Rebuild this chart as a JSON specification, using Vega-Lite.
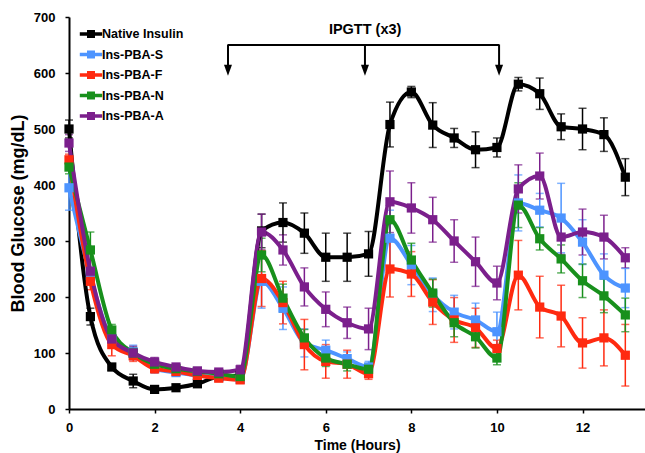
{
  "$schema": "https://vega.github.io/schema/vega-lite/v6.json",
  "width": 576,
  "height": 392,
  "autosize": "none",
  "padding": {"left": 69, "top": 17, "right": 0, "bottom": 44},
  "background": "white",
  "config": {
    "view": {"stroke": null},
    "font": "Liberation Sans",
    "axis": {
      "grid": false,
      "domainColor": "#000000",
      "domainWidth": 2,
      "tickColor": "#000000",
      "tickWidth": 1.5,
      "tickSize": 4,
      "labelFont": "Liberation Sans",
      "labelFontWeight": "bold",
      "labelFontSize": 13,
      "labelColor": "#000000",
      "labelFlush": false,
      "titleFont": "Liberation Sans",
      "titleFontWeight": "bold",
      "titleColor": "#000000"
    }
  },
  "datasets": {
    "glucose": [
      {"series": "Native Insulin", "t": 0, "v": 500, "e": 16},
      {"series": "Native Insulin", "t": 0.5, "v": 165, "e": 15},
      {"series": "Native Insulin", "t": 1, "v": 75, "e": 6},
      {"series": "Native Insulin", "t": 1.5, "v": 50, "e": 12},
      {"series": "Native Insulin", "t": 2, "v": 35, "e": 4},
      {"series": "Native Insulin", "t": 2.5, "v": 38, "e": 4},
      {"series": "Native Insulin", "t": 3, "v": 45, "e": 4},
      {"series": "Native Insulin", "t": 3.5, "v": 58, "e": 4},
      {"series": "Native Insulin", "t": 4, "v": 60, "e": 4},
      {"series": "Native Insulin", "t": 4.5, "v": 318, "e": 30},
      {"series": "Native Insulin", "t": 5, "v": 333, "e": 35},
      {"series": "Native Insulin", "t": 5.5, "v": 314, "e": 36},
      {"series": "Native Insulin", "t": 6, "v": 271, "e": 43},
      {"series": "Native Insulin", "t": 6.5, "v": 271, "e": 43},
      {"series": "Native Insulin", "t": 7, "v": 277, "e": 40},
      {"series": "Native Insulin", "t": 7.5, "v": 508, "e": 40},
      {"series": "Native Insulin", "t": 8, "v": 566, "e": 10},
      {"series": "Native Insulin", "t": 8.5, "v": 507, "e": 40},
      {"series": "Native Insulin", "t": 9, "v": 484, "e": 17},
      {"series": "Native Insulin", "t": 9.5, "v": 463, "e": 32},
      {"series": "Native Insulin", "t": 10, "v": 467, "e": 17},
      {"series": "Native Insulin", "t": 10.5, "v": 580, "e": 12},
      {"series": "Native Insulin", "t": 11, "v": 563, "e": 28},
      {"series": "Native Insulin", "t": 11.5, "v": 504, "e": 23},
      {"series": "Native Insulin", "t": 12, "v": 500, "e": 37},
      {"series": "Native Insulin", "t": 12.5, "v": 490, "e": 30},
      {"series": "Native Insulin", "t": 13, "v": 414, "e": 33},

      {"series": "Ins-PBA-S", "t": 0, "v": 395, "e": 40},
      {"series": "Ins-PBA-S", "t": 0.5, "v": 238, "e": 15},
      {"series": "Ins-PBA-S", "t": 1, "v": 125, "e": 10},
      {"series": "Ins-PBA-S", "t": 1.5, "v": 102, "e": 12},
      {"series": "Ins-PBA-S", "t": 2, "v": 72, "e": 6},
      {"series": "Ins-PBA-S", "t": 2.5, "v": 65, "e": 6},
      {"series": "Ins-PBA-S", "t": 3, "v": 60, "e": 5},
      {"series": "Ins-PBA-S", "t": 3.5, "v": 57, "e": 5},
      {"series": "Ins-PBA-S", "t": 4, "v": 53, "e": 5},
      {"series": "Ins-PBA-S", "t": 4.5, "v": 228, "e": 48},
      {"series": "Ins-PBA-S", "t": 5, "v": 180, "e": 38},
      {"series": "Ins-PBA-S", "t": 5.5, "v": 118, "e": 25},
      {"series": "Ins-PBA-S", "t": 6, "v": 105, "e": 18},
      {"series": "Ins-PBA-S", "t": 6.5, "v": 90, "e": 12},
      {"series": "Ins-PBA-S", "t": 7, "v": 75, "e": 10},
      {"series": "Ins-PBA-S", "t": 7.5, "v": 305, "e": 50},
      {"series": "Ins-PBA-S", "t": 8, "v": 257, "e": 35},
      {"series": "Ins-PBA-S", "t": 8.5, "v": 204, "e": 30},
      {"series": "Ins-PBA-S", "t": 9, "v": 173, "e": 30},
      {"series": "Ins-PBA-S", "t": 9.5, "v": 159, "e": 30},
      {"series": "Ins-PBA-S", "t": 10, "v": 138, "e": 35},
      {"series": "Ins-PBA-S", "t": 10.5, "v": 368, "e": 50},
      {"series": "Ins-PBA-S", "t": 11, "v": 355, "e": 30},
      {"series": "Ins-PBA-S", "t": 11.5, "v": 341, "e": 62},
      {"series": "Ins-PBA-S", "t": 12, "v": 298, "e": 40},
      {"series": "Ins-PBA-S", "t": 12.5, "v": 239, "e": 38},
      {"series": "Ins-PBA-S", "t": 13, "v": 216, "e": 35},

      {"series": "Ins-PBA-F", "t": 0, "v": 445, "e": 10},
      {"series": "Ins-PBA-F", "t": 0.5, "v": 228, "e": 15},
      {"series": "Ins-PBA-F", "t": 1, "v": 115, "e": 20},
      {"series": "Ins-PBA-F", "t": 1.5, "v": 95, "e": 10},
      {"series": "Ins-PBA-F", "t": 2, "v": 72, "e": 8},
      {"series": "Ins-PBA-F", "t": 2.5, "v": 67, "e": 6},
      {"series": "Ins-PBA-F", "t": 3, "v": 60, "e": 5},
      {"series": "Ins-PBA-F", "t": 3.5, "v": 55, "e": 5},
      {"series": "Ins-PBA-F", "t": 4, "v": 52, "e": 5},
      {"series": "Ins-PBA-F", "t": 4.5, "v": 233, "e": 50},
      {"series": "Ins-PBA-F", "t": 5, "v": 190, "e": 38},
      {"series": "Ins-PBA-F", "t": 5.5, "v": 115, "e": 45},
      {"series": "Ins-PBA-F", "t": 6, "v": 85, "e": 30},
      {"series": "Ins-PBA-F", "t": 6.5, "v": 80, "e": 25},
      {"series": "Ins-PBA-F", "t": 7, "v": 63, "e": 10},
      {"series": "Ins-PBA-F", "t": 7.5, "v": 250, "e": 50},
      {"series": "Ins-PBA-F", "t": 8, "v": 241, "e": 40},
      {"series": "Ins-PBA-F", "t": 8.5, "v": 191, "e": 40},
      {"series": "Ins-PBA-F", "t": 9, "v": 159, "e": 40},
      {"series": "Ins-PBA-F", "t": 9.5, "v": 145, "e": 35},
      {"series": "Ins-PBA-F", "t": 10, "v": 108, "e": 15},
      {"series": "Ins-PBA-F", "t": 10.5, "v": 239, "e": 62},
      {"series": "Ins-PBA-F", "t": 11, "v": 182, "e": 55},
      {"series": "Ins-PBA-F", "t": 11.5, "v": 166, "e": 55},
      {"series": "Ins-PBA-F", "t": 12, "v": 118, "e": 45},
      {"series": "Ins-PBA-F", "t": 12.5, "v": 127, "e": 50},
      {"series": "Ins-PBA-F", "t": 13, "v": 96, "e": 55},

      {"series": "Ins-PBA-N", "t": 0, "v": 432, "e": 12},
      {"series": "Ins-PBA-N", "t": 0.5, "v": 284, "e": 32},
      {"series": "Ins-PBA-N", "t": 1, "v": 141, "e": 10},
      {"series": "Ins-PBA-N", "t": 1.5, "v": 100, "e": 10},
      {"series": "Ins-PBA-N", "t": 2, "v": 80, "e": 6},
      {"series": "Ins-PBA-N", "t": 2.5, "v": 72, "e": 6},
      {"series": "Ins-PBA-N", "t": 3, "v": 67, "e": 5},
      {"series": "Ins-PBA-N", "t": 3.5, "v": 63, "e": 5},
      {"series": "Ins-PBA-N", "t": 4, "v": 58, "e": 5},
      {"series": "Ins-PBA-N", "t": 4.5, "v": 275, "e": 30},
      {"series": "Ins-PBA-N", "t": 5, "v": 198, "e": 25},
      {"series": "Ins-PBA-N", "t": 5.5, "v": 127, "e": 15},
      {"series": "Ins-PBA-N", "t": 6, "v": 91, "e": 15},
      {"series": "Ins-PBA-N", "t": 6.5, "v": 80, "e": 12},
      {"series": "Ins-PBA-N", "t": 7, "v": 71, "e": 10},
      {"series": "Ins-PBA-N", "t": 7.5, "v": 338, "e": 30},
      {"series": "Ins-PBA-N", "t": 8, "v": 266, "e": 30},
      {"series": "Ins-PBA-N", "t": 8.5, "v": 207, "e": 25},
      {"series": "Ins-PBA-N", "t": 9, "v": 154, "e": 25},
      {"series": "Ins-PBA-N", "t": 9.5, "v": 129, "e": 20},
      {"series": "Ins-PBA-N", "t": 10, "v": 91, "e": 12},
      {"series": "Ins-PBA-N", "t": 10.5, "v": 364, "e": 40},
      {"series": "Ins-PBA-N", "t": 11, "v": 304, "e": 20},
      {"series": "Ins-PBA-N", "t": 11.5, "v": 268, "e": 25},
      {"series": "Ins-PBA-N", "t": 12, "v": 229, "e": 30},
      {"series": "Ins-PBA-N", "t": 12.5, "v": 202, "e": 30},
      {"series": "Ins-PBA-N", "t": 13, "v": 168, "e": 30},

      {"series": "Ins-PBA-A", "t": 0, "v": 475, "e": 15},
      {"series": "Ins-PBA-A", "t": 0.5, "v": 246, "e": 20},
      {"series": "Ins-PBA-A", "t": 1, "v": 125, "e": 12},
      {"series": "Ins-PBA-A", "t": 1.5, "v": 100, "e": 12},
      {"series": "Ins-PBA-A", "t": 2, "v": 84, "e": 8},
      {"series": "Ins-PBA-A", "t": 2.5, "v": 75, "e": 6},
      {"series": "Ins-PBA-A", "t": 3, "v": 68, "e": 5},
      {"series": "Ins-PBA-A", "t": 3.5, "v": 66, "e": 5},
      {"series": "Ins-PBA-A", "t": 4, "v": 70, "e": 8},
      {"series": "Ins-PBA-A", "t": 4.5, "v": 316, "e": 32},
      {"series": "Ins-PBA-A", "t": 5, "v": 284, "e": 27},
      {"series": "Ins-PBA-A", "t": 5.5, "v": 218, "e": 34},
      {"series": "Ins-PBA-A", "t": 6, "v": 178, "e": 31},
      {"series": "Ins-PBA-A", "t": 6.5, "v": 154, "e": 28},
      {"series": "Ins-PBA-A", "t": 7, "v": 143, "e": 37},
      {"series": "Ins-PBA-A", "t": 7.5, "v": 370, "e": 55},
      {"series": "Ins-PBA-A", "t": 8, "v": 359, "e": 45},
      {"series": "Ins-PBA-A", "t": 8.5, "v": 338, "e": 40},
      {"series": "Ins-PBA-A", "t": 9, "v": 300, "e": 38},
      {"series": "Ins-PBA-A", "t": 9.5, "v": 263, "e": 44},
      {"series": "Ins-PBA-A", "t": 10, "v": 225, "e": 30},
      {"series": "Ins-PBA-A", "t": 10.5, "v": 393, "e": 43},
      {"series": "Ins-PBA-A", "t": 11, "v": 416, "e": 41},
      {"series": "Ins-PBA-A", "t": 11.5, "v": 307, "e": 31},
      {"series": "Ins-PBA-A", "t": 12, "v": 316, "e": 41},
      {"series": "Ins-PBA-A", "t": 12.5, "v": 307, "e": 39},
      {"series": "Ins-PBA-A", "t": 13, "v": 270, "e": 18}
    ],
    "bracket": [
      {"t": 3.715, "v": 650, "t2": 10.05, "v2": 650},
      {"t": 3.715, "v": 651, "t2": 3.715, "v2": 612},
      {"t": 6.916, "v": 651, "t2": 6.916, "v2": 612},
      {"t": 10.05, "v": 651, "t2": 10.05, "v2": 612}
    ],
    "arrows": [
      {"t": 3.715, "v": 605},
      {"t": 6.916, "v": 605},
      {"t": 10.05, "v": 605}
    ],
    "label": [
      {"t": 6.92, "v": 677, "text": "IPGTT (x3)"}
    ]
  },
  "layer": [
    {
      "mark": {"type": "rule", "color": "#333333", "strokeWidth": 2},
      "encoding": {"y": {"datum": 700, "type": "quantitative"}}
    },
    {
      "data": {"name": "glucose"},
      "mark": {"type": "errorbar", "ticks": {"size": 8, "thickness": 1.5}, "thickness": 1.5},
      "encoding": {
        "x": {"field": "t", "type": "quantitative", "scale": {"domain": [0, 13.46], "nice": false, "zero": false},
          "axis": {"values": [0, 2, 4, 6, 8, 10, 12], "title": "Time (Hours)", "titleFontSize": 14, "labelPadding": 8, "titlePadding": 4}},
        "y": {"field": "v", "type": "quantitative", "scale": {"domain": [0, 700], "nice": false},
          "axis": {"values": [0, 100, 200, 300, 400, 500, 600, 700], "title": "Blood Glucose (mg/dL)", "titleFontSize": 18, "labelPadding": 10, "titlePadding": 6}},
        "yError": {"field": "e"},
        "color": {"field": "series", "type": "nominal",
          "scale": {"domain": ["Native Insulin", "Ins-PBA-S", "Ins-PBA-F", "Ins-PBA-N", "Ins-PBA-A"],
                    "range": ["#000000", "#4d94ff", "#ff2a10", "#18901c", "#7b1f8c"]},
          "legend": {
            "title": null,
            "orient": "none",
            "legendX": 12,
            "legendY": 7,
            "padding": 0,
            "symbolType": "M-1.4,0H1.4M-0.28,-0.28H0.28V0.28H-0.28Z",
            "symbolSize": 256,
            "symbolStrokeWidth": 3.5,
            "symbolOpacity": 1,
            "labelFont": "Liberation Sans",
            "labelFontWeight": "bold",
            "labelFontSize": 12.5,
            "labelColor": "#000000",
            "labelOffset": 1,
            "rowPadding": 0.5,
            "encode": {
              "symbols": {
                "update": {
                  "fill": {"scale": "color", "field": "value"},
                  "stroke": {"scale": "color", "field": "value"}
                }
              }
            }
          }}
      }
    },
    {
      "data": {"name": "glucose"},
      "mark": {"type": "line", "strokeWidth": 4, "interpolate": "monotone"},
      "encoding": {
        "x": {"field": "t", "type": "quantitative"},
        "y": {"field": "v", "type": "quantitative"},
        "color": {"field": "series", "type": "nominal"}
      }
    },
    {
      "data": {"name": "glucose"},
      "mark": {"type": "point", "shape": "square", "filled": true, "size": 85, "opacity": 1},
      "encoding": {
        "x": {"field": "t", "type": "quantitative"},
        "y": {"field": "v", "type": "quantitative"},
        "color": {"field": "series", "type": "nominal"}
      }
    },
    {
      "data": {"name": "bracket"},
      "mark": {"type": "rule", "color": "#000000", "strokeWidth": 2},
      "encoding": {
        "x": {"field": "t", "type": "quantitative"},
        "x2": {"field": "t2"},
        "y": {"field": "v", "type": "quantitative"},
        "y2": {"field": "v2"}
      }
    },
    {
      "data": {"name": "arrows"},
      "mark": {"type": "point", "shape": "M-0.4,-0.55L0.4,-0.55L0,0.55Z", "filled": true, "size": 400, "color": "#000000", "opacity": 1},
      "encoding": {
        "x": {"field": "t", "type": "quantitative"},
        "y": {"field": "v", "type": "quantitative"}
      }
    },
    {
      "data": {"name": "label"},
      "mark": {"type": "text", "font": "Liberation Sans", "fontWeight": "bold", "fontSize": 14.5, "color": "#000000", "align": "center", "baseline": "middle"},
      "encoding": {
        "x": {"field": "t", "type": "quantitative"},
        "y": {"field": "v", "type": "quantitative"},
        "text": {"field": "text"}
      }
    }
  ]
}
